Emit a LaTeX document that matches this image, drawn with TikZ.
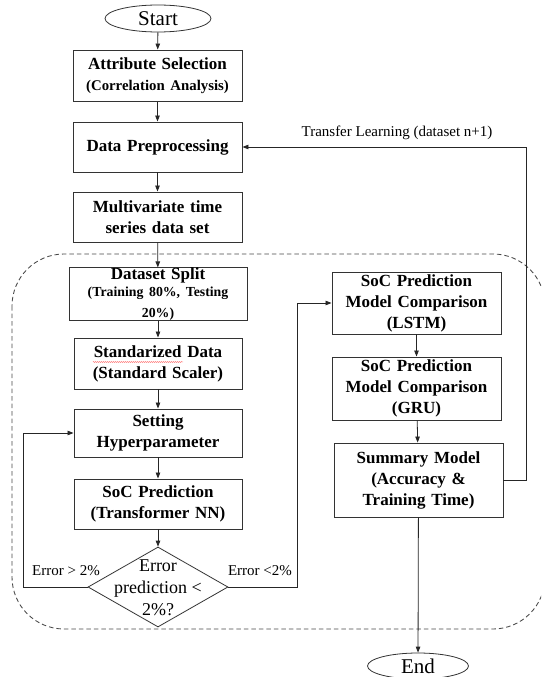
\documentclass[tikz,border=0pt]{standalone}
\usepackage{fontspec}
\setmainfont{Liberation Serif}
\usetikzlibrary{shapes.geometric,arrows.meta,decorations.pathmorphing}
\begin{document}
\begin{tikzpicture}[x=1pt,y=-1pt,
  box/.style={draw=black!80, line width=0.9pt, inner sep=0pt, align=center,
    font=\fontsize{17}{21}\selectfont\bfseries},
  term/.style={ellipse, draw=black!80, line width=0.8pt, inner sep=0pt,
    font=\fontsize{21}{25}\selectfont},
  arr/.style={draw=black!85, line width=0.8pt, -{Triangle[length=6pt,width=4.5pt]}},
  lbl/.style={inner sep=0pt, font=\fontsize{15}{18}\selectfont},
  dashbox/.style={draw=black!72, line width=0.85pt, dash pattern=on 4.5pt off 3pt, rounded corners=52pt}]
\useasboundingbox (0,0) rectangle (541,677);
\clip (0,0) rectangle (541,677);
\fill[white] (0,0) rectangle (541,677);

% dashed group
\draw[dashbox] (12,254) rectangle (545,629);

% terminals
\node[term, minimum width=106pt, minimum height=27pt] (start) at (158,18.5) {Start};
\node[term, minimum width=101pt, minimum height=26pt] (end) at (418,666) {End};

% left column
\node[box, minimum width=169pt, minimum height=51.5pt, text width=165pt] (attr) at (157.5,75.75)
  {Attribute Selection\\{\fontsize{14.8}{18}\selectfont (Correlation Analysis)}};
\node[box, minimum width=169pt, minimum height=50pt, text width=165pt] (prep) at (157.5,147)
  {Data Preprocessing};
\node[box, minimum width=169pt, minimum height=50pt, text width=165pt] (multi) at (157.5,217)
  {Multivariate time\\series data set};
\node[box, minimum width=178pt, minimum height=52pt, text width=174pt] (split) at (158,294)
  {Dataset Split\\{\fontsize{13.8}{16.5}\selectfont (Training 80\%, Testing\\20\%)}};
\node[box, minimum width=168pt, minimum height=51pt, text width=164pt] (std) at (158,363.5)
  {Standarized Data\\(Standard Scaler)};
\node[box, minimum width=168pt, minimum height=48pt, text width=164pt] (set) at (158,433)
  {Setting\\Hyperparameter};
\node[box, minimum width=168pt, minimum height=50pt, text width=164pt] (trans) at (158,504)
  {SoC Prediction\\(Transformer NN)};
\node[diamond, draw=black!80, line width=0.8pt, inner sep=0pt, minimum width=140pt, minimum height=80pt] (dec) at (158,587) {};
\node[inner sep=0pt, align=center, font=\fontsize{18}{22}\selectfont] (dect) at (158,588) {Error\\prediction <\\2\%?};

% right column
\node[box, minimum width=169pt, minimum height=62pt, text width=165pt] (lstm) at (416.5,303)
  {SoC Prediction\\Model Comparison\\(LSTM)};
\node[box, minimum width=169pt, minimum height=63pt, text width=165pt] (gru) at (416.5,388.5)
  {SoC Prediction\\Model Comparison\\(GRU)};
\node[box, minimum width=169pt, minimum height=74pt, text width=165pt] (sum) at (418.5,480)
  {Summary Model\\(Accuracy \&\\Training Time)};

% spell-check underline
\draw[red!65, line width=0.4pt, decorate, decoration={snake, amplitude=0.5pt, segment length=2pt}] (93,362) -- (183,362);

% labels
\node[lbl] (tl) at (397,133) {Transfer Learning (dataset n+1)};
\node[lbl] (gt) at (66,571) {Error > 2\%};
\node[lbl] (lt) at (260,571) {Error <2\%};

% helper coordinates
\coordinate (lp) at (23,433);
\coordinate (rp) at (297,303);
\coordinate (tp) at (526,147);

% connectors
\draw[arr] (start) -- (attr);
\draw[arr] (attr) -- (prep);
\draw[arr] (prep) -- (multi);
\draw[arr] (multi) -- (split);
\draw[arr] (split) -- (std);
\draw[arr] (std) -- (set);
\draw[arr] (set) -- (trans);
\draw[arr] (trans) -- (dec);
\draw[arr] (dec.west) -| (lp) -- (set.west);
\draw[arr] (dec.east) -| (rp) -- (lstm.west);
\draw[arr] (lstm) -- (gru);
\draw[arr] (gru) -- (sum);
\draw[arr] (sum) -- (end);
\draw[arr] (sum.east) -| (tp) -- (prep.east);
\end{tikzpicture}
\end{document}
